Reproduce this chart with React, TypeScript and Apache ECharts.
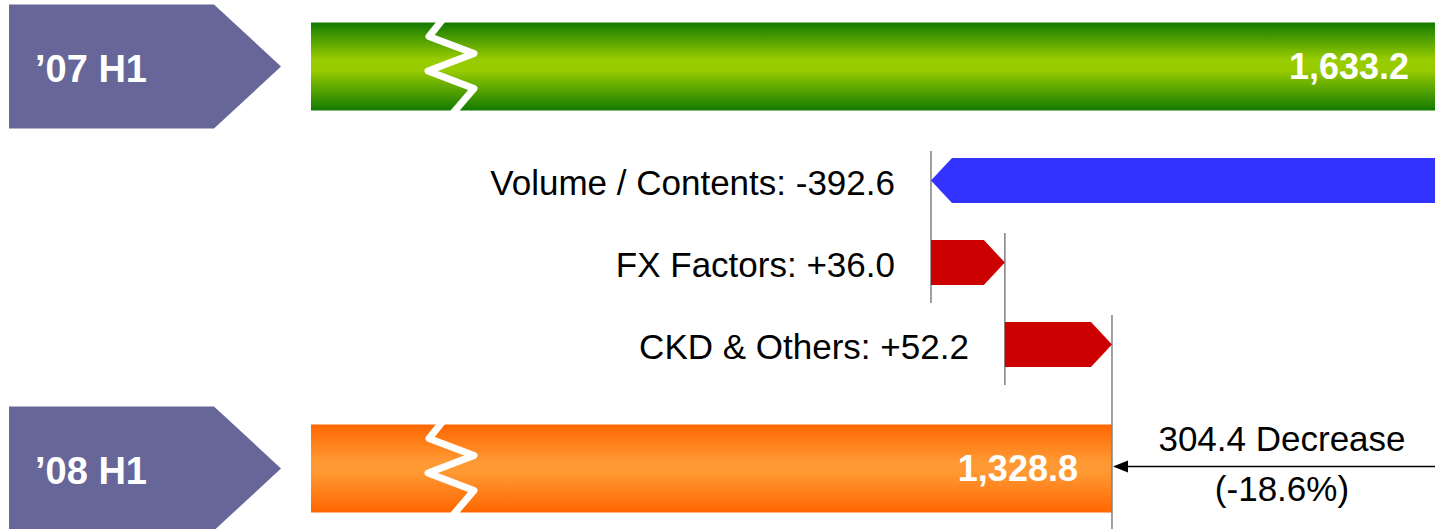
import React, { useEffect, useRef } from "react";
import * as echarts from "echarts";

// ---- data ----
const periods = ["\u201907 H1", "\u201908 H1"];
const totals = [1633.2, 1328.8];
const stepNames = ["Volume / Contents", "FX Factors", "CKD & Others"];
const stepValues = [-392.6, 36.0, 52.2];

const FONT = "'Liberation Sans', Arial, Helvetica, sans-serif";

function fmtTotal(v: number) {
  return v.toLocaleString("en-US", { minimumFractionDigits: 1, maximumFractionDigits: 1 });
}
function fmtStep(v: number) {
  return (v > 0 ? "+" : "") + v.toFixed(1);
}

export default function App() {
  const ref = useRef<HTMLDivElement>(null);

  useEffect(() => {
    if (!ref.current) return;
    const chart = echarts.init(ref.current, undefined, { renderer: "svg" });

    // step data: [row, start, end, value]
    const stepData: number[][] = [];
    let cum = totals[0];
    stepValues.forEach((v, i) => {
      const s = cum;
      const e = Math.round((cum + v) * 10) / 10;
      stepData.push([i, s, e, v]);
      cum = e;
    });
    const totalData = totals.map((v, i) => [i, v]);

    const greenGrad = () =>
      new echarts.graphic.LinearGradient(0, 0, 0, 1, [
        { offset: 0, color: "#127a00" },
        { offset: 0.42, color: "#99cc00" },
        { offset: 0.54, color: "#99cc00" },
        { offset: 1, color: "#127a00" },
      ]);
    const orangeGrad = () =>
      new echarts.graphic.LinearGradient(0, 0, 0, 1, [
        { offset: 0, color: "#ff6600" },
        { offset: 0.42, color: "#ff9933" },
        { offset: 0.54, color: "#ff9933" },
        { offset: 1, color: "#ff6600" },
      ]);

    const renderTotal = (params: any, api: any) => {
      const i = api.value(0);
      const val = api.value(1);
      const cs = params.coordSys;
      const left = cs.x;
      const right = cs.x + cs.width;
      const p = api.coord([val, i]);
      const cy = p[1];
      const endRaw = p[0];
      const clipped = endRaw > right;
      const end = Math.min(endRaw, right);
      const h = 88;
      const children: any[] = [];
      // chevron label
      children.push({
        type: "polygon",
        shape: {
          points: [
            [left - 302, cy - 62],
            [left - 97, cy - 62],
            [left - 30, cy],
            [left - 97, cy + 62],
            [left - 302, cy + 62],
          ],
        },
        style: { fill: "#666699" },
      });
      children.push({
        type: "text",
        style: {
          text: periods[i],
          x: left - 276,
          y: cy + 2,
          fill: "#ffffff",
          fontSize: 38,
          fontWeight: "bold",
          fontFamily: FONT,
          align: "left",
          verticalAlign: "middle",
        },
      });
      // bar
      children.push({
        type: "rect",
        shape: { x: left, y: cy - h / 2, width: end - left, height: h },
        style: { fill: i === 0 ? greenGrad() : orangeGrad() },
      });
      // axis-break zigzag
      children.push({
        type: "polyline",
        shape: {
          points: [
            [left + 134, cy - 50],
            [left + 118, cy - 30],
            [left + 163, cy - 13],
            [left + 117, cy + 4.5],
            [left + 163, cy + 22],
            [left + 139, cy + 50],
          ],
        },
        style: { stroke: "#ffffff", lineWidth: 7, fill: null, lineJoin: "round" },
      });
      // value label
      children.push({
        type: "text",
        style: {
          text: fmtTotal(val),
          x: end - (clipped ? 26 : 34),
          y: cy,
          fill: "#ffffff",
          fontSize: 36,
          fontWeight: "bold",
          fontFamily: FONT,
          align: "right",
          verticalAlign: "middle",
        },
      });
      // change annotation on the last total
      if (i === totals.length - 1) {
        const ay = cy - 2;
        const diff = totals[0] - totals[totals.length - 1];
        const pct = (-diff / totals[0]) * 100;
        children.push({
          type: "line",
          shape: { x1: right, y1: ay, x2: end + 12, y2: ay },
          style: { stroke: "#000000", lineWidth: 1.5 },
        });
        children.push({
          type: "polygon",
          shape: {
            points: [
              [end + 1, ay],
              [end + 16, ay - 6],
              [end + 16, ay + 6],
            ],
          },
          style: { fill: "#000000" },
        });
        children.push({
          type: "text",
          style: {
            text: diff.toFixed(1) + " Decrease",
            x: end + 170,
            y: ay - 28,
            fill: "#000000",
            fontSize: 35,
            fontFamily: FONT,
            align: "center",
            verticalAlign: "middle",
          },
        });
        children.push({
          type: "text",
          style: {
            text: "(" + pct.toFixed(1) + "%)",
            x: end + 170,
            y: ay + 22,
            fill: "#000000",
            fontSize: 35,
            fontFamily: FONT,
            align: "center",
            verticalAlign: "middle",
          },
        });
      }
      return { type: "group", children };
    };

    const renderStep = (params: any, api: any) => {
      const i = api.value(0);
      const s = api.value(1);
      const e = api.value(2);
      const v = api.value(3);
      const cs = params.coordSys;
      const right = cs.x + cs.width;
      const ps = api.coord([s, i]);
      const cy = ps[1];
      const xs = ps[0];
      const xe = api.coord([e, i])[0];
      const h = 45;
      const d = 21;
      let pts: number[][];
      if (e < s) {
        const r = Math.min(xs, right);
        pts = [
          [xe, cy],
          [xe + d, cy - h / 2],
          [r, cy - h / 2],
          [r, cy + h / 2],
          [xe + d, cy + h / 2],
        ];
      } else {
        pts = [
          [xs, cy - h / 2],
          [xe - d, cy - h / 2],
          [xe, cy],
          [xe - d, cy + h / 2],
          [xs, cy + h / 2],
        ];
      }
      const children: any[] = [];
      const yBottom =
        i < stepValues.length - 1 ? api.coord([e, i + 1])[1] + h / 2 + 18 : api.getHeight();
      children.push({
        type: "line",
        shape: { x1: xe, y1: cy - h / 2 - 7, x2: xe, y2: yBottom },
        style: { stroke: "#808080", lineWidth: 1.5 },
      });
      children.push({
        type: "polygon",
        shape: { points: pts },
        style: { fill: v < 0 ? "#3333ff" : "#cc0000" },
      });
      children.push({
        type: "text",
        style: {
          text: stepNames[i] + ": " + fmtStep(v),
          x: Math.min(xs, xe) - 36,
          y: cy + 2,
          fill: "#000000",
          fontSize: 35,
          fontFamily: FONT,
          align: "right",
          verticalAlign: "middle",
        },
      });
      return { type: "group", children };
    };

    const xMin = 938.5;
    const xMax = 1486.2;

    chart.setOption({
      animation: false,
      backgroundColor: "#ffffff",
      grid: [
        { left: 311, right: 0, top: 66.5, height: 402 },
        { left: 311, right: 0, top: 180.5, height: 164 },
      ],
      xAxis: [
        { type: "value", gridIndex: 0, min: xMin, max: xMax, show: false },
        { type: "value", gridIndex: 1, min: xMin, max: xMax, show: false },
      ],
      yAxis: [
        { type: "category", gridIndex: 0, data: periods, inverse: true, boundaryGap: false, show: false },
        { type: "category", gridIndex: 1, data: stepNames, inverse: true, boundaryGap: false, show: false },
      ],
      series: [
        {
          type: "custom",
          xAxisIndex: 0,
          yAxisIndex: 0,
          clip: false,
          renderItem: renderTotal,
          data: totalData,
          encode: { x: 1, y: 0 },
        },
        {
          type: "custom",
          xAxisIndex: 1,
          yAxisIndex: 1,
          clip: false,
          renderItem: renderStep,
          data: stepData,
          encode: { x: [1, 2], y: 0 },
        },
      ],
    });

    return () => chart.dispose();
  }, []);

  return (
    <div
      ref={ref}
      style={{ position: "absolute", left: 0, top: 0, width: 1435, height: 529, background: "#fff" }}
    />
  );
}
